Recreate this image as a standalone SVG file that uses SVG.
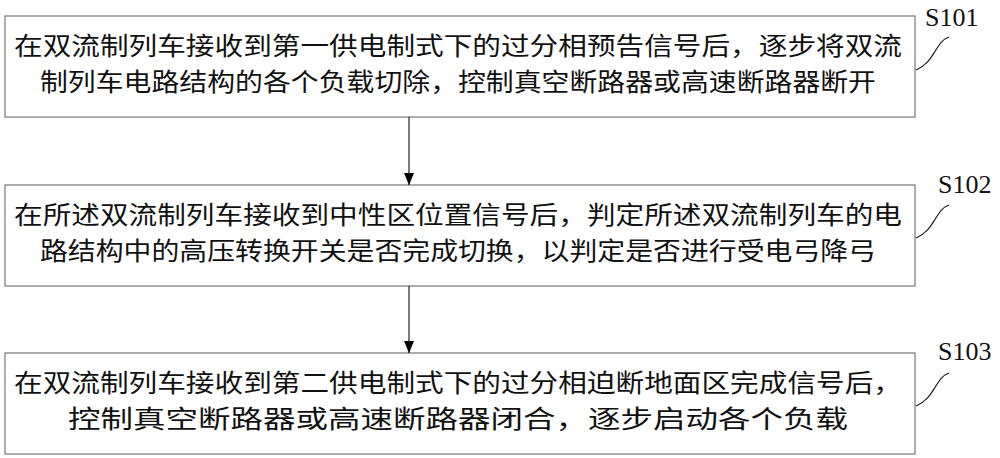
<svg xmlns="http://www.w3.org/2000/svg" width="1000" height="458" viewBox="0 0 1000 458">
<defs>
<marker id="ah" markerWidth="12" markerHeight="10" refX="12" refY="5" orient="auto" markerUnits="userSpaceOnUse" viewBox="0 0 12 10"><path d="M0,0 L12,5 L0,10 Z" fill="#000"/></marker>
</defs>
<style>
.box{fill:#fff;stroke:#777;stroke-width:1.2}
.t{font-family:"Noto Sans CJK SC",sans-serif;font-size:25px;fill:#111;text-anchor:middle}
.lbl{font-family:"Liberation Serif",serif;font-size:26px;fill:#111}
.cn{fill:none;stroke:#222;stroke-width:1.2}
</style>
<rect width="1000" height="458" fill="#fff"/>
<g id="n1"><rect class="box" x="5" y="16" width="910" height="101"/>
<text class="t" x="458" y="55" textLength="888" lengthAdjust="spacingAndGlyphs">在双流制列车接收到第一供电制式下的过分相预告信号后，逐步将双流</text>
<text class="t" x="458" y="91" textLength="836" lengthAdjust="spacingAndGlyphs">制列车电路结构的各个负载切除，控制真空断路器或高速断路器断开</text>
<text class="lbl" x="925" y="26">S101</text></g>
<g id="n2"><rect class="box" x="5" y="185" width="910" height="101"/>
<text class="t" x="458" y="224" textLength="888" lengthAdjust="spacingAndGlyphs">在所述双流制列车接收到中性区位置信号后，判定所述双流制列车的电</text>
<text class="t" x="458" y="260" textLength="836" lengthAdjust="spacingAndGlyphs">路结构中的高压转换开关是否完成切换，以判定是否进行受电弓降弓</text>
<text class="lbl" x="938" y="193">S102</text></g>
<g id="n3"><rect class="box" x="5" y="353" width="910" height="101"/>
<text class="t" x="458" y="392" textLength="888" lengthAdjust="spacingAndGlyphs">在双流制列车接收到第二供电制式下的过分相迫断地面区完成信号后，</text>
<text class="t" x="458" y="428" textLength="780" lengthAdjust="spacingAndGlyphs">控制真空断路器或高速断路器闭合，逐步启动各个负载</text>
<text class="lbl" x="938" y="360">S103</text></g>
<g id="connectors">
<line class="cn" x1="409" y1="117" x2="409" y2="185" marker-end="url(#ah)"/>
<line class="cn" x1="409" y1="286" x2="409" y2="353" marker-end="url(#ah)"/>
<path class="cn" d="M916,70 C935,62 935,42 949,37"/>
<path class="cn" d="M916,238 C935,230 935,210 949,205"/>
<path class="cn" d="M916,406 C935,398 935,378 949,373"/>
</g>
</svg>
